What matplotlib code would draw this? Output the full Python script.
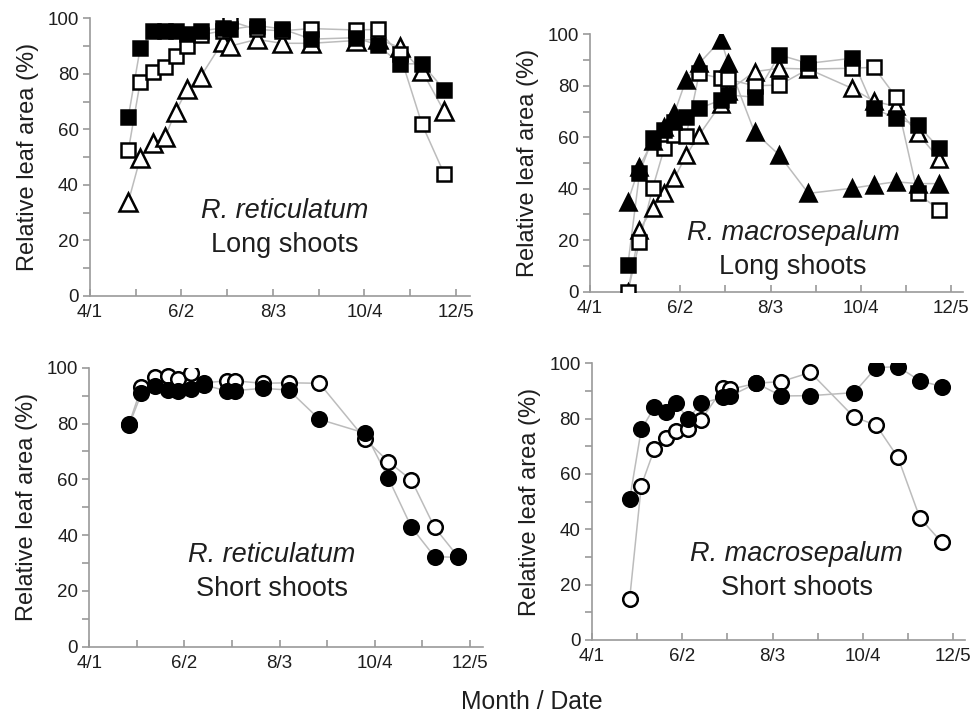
import matplotlib
matplotlib.use("Agg")
import matplotlib.pyplot as plt

plt.rcParams['font.family'] = ['Liberation Sans', 'DejaVu Sans']

# Sampling dates: days after April 1
days = [26, 34, 43, 51, 58, 66, 75, 90, 95, 113, 130, 150, 180, 195, 210, 225, 240]

# x ticks (days after 4/1) and labels
xtick_pos = [0, 31, 62, 93, 124, 155, 186, 217, 248]
xtick_labels = ['4/1', '', '6/2', '', '8/3', '', '10/4', '', '12/5']

# Panel 1: R. reticulatum, long shoots
rr_long_filled_sq = [64.6, 89.2, 95.3, 95.5, 95.5, 94.5, 95.5, 96.5, 96.0, 97.4, 96.2, 92.5, 93.0, 90.4, 83.6, 83.6, 74.3]
rr_long_open_sq = [52.5, 77.0, 80.8, 82.6, 86.5, 90.0, 94.0, 95.5, 99.0, 96.0, 95.5, 96.3, 95.8, 96.0, 87.0, 61.8, 44.0]
rr_long_open_tri = [34.0, 49.6, 55.2, 57.4, 66.4, 74.5, 79.0, 91.6, 90.0, 92.4, 91.0, 91.0, 92.0, 92.5, 89.5, 81.0, 66.5]

# Panel 2: R. macrosepalum, long shoots
rm_long_filled_tri = [35.0, 48.6, 58.5, 64.0, 69.5, 82.3, 88.7, 97.8, 88.7, 62.0, 53.1, 38.2, 40.2, 41.5, 42.7, 42.0, 42.0]
rm_long_filled_sq = [10.4, 46.0, 59.6, 62.8, 66.0, 68.0, 71.2, 74.5, 76.4, 75.6, 92.0, 88.7, 90.7, 71.2, 67.4, 64.8, 55.7]
rm_long_open_sq = [0.0, 19.4, 40.2, 55.7, 60.9, 60.5, 84.8, 82.9, 82.5, 80.0, 80.3, 86.5, 86.8, 87.2, 75.8, 38.2, 31.7]
rm_long_open_tri = [0.0, 24.0, 32.4, 38.2, 44.0, 53.0, 60.9, 73.0, 78.0, 85.5, 86.8, 86.5, 79.0, 74.0, 72.0, 61.5, 51.5]

# Panel 3: R. reticulatum, short shoots
rr_short_open = [80.0, 93.0, 96.8, 97.1, 96.0, 98.2, 94.6, 95.3, 95.3, 94.4, 94.6, 94.4, 74.3, 66.3, 59.7, 42.8, 32.5]
rr_short_filled = [79.5, 90.8, 93.4, 92.0, 91.6, 92.2, 93.8, 91.6, 91.8, 92.6, 92.0, 81.5, 76.5, 60.3, 42.8, 32.3, 32.0]

# Panel 4: R. macrosepalum, short shoots
rm_short_filled = [50.8, 76.1, 84.1, 82.5, 85.8, 79.8, 85.5, 87.7, 88.2, 92.8, 88.2, 88.3, 89.4, 98.4, 98.8, 93.7, 91.6]
rm_short_open = [14.7, 55.8, 69.0, 73.1, 75.5, 76.3, 79.5, 91.0, 90.6, 92.8, 93.4, 96.7, 80.5, 77.7, 66.0, 44.2, 35.3]

W, H = 976, 714
fig = plt.figure(figsize=(W / 100, H / 100), dpi=100)

def px_axes(left, right, top, bottom):
    return fig.add_axes([left / W, (H - bottom) / H, (right - left) / W, (bottom - top) / H])

LINE_C = '#bcbcbc'
SPINE_C = '#9a9a9a'
TXT_C = '#1e1e1e'

def style(ax, xmax):
    ax.set_xlim(0, xmax)
    ax.set_ylim(0, 100)
    for s in ['top', 'right']:
        ax.spines[s].set_visible(False)
    for s in ['left', 'bottom']:
        ax.spines[s].set_color(SPINE_C)
        ax.spines[s].set_linewidth(1.2)
    ax.set_xticks(xtick_pos)
    ax.set_xticklabels(xtick_labels)
    ax.set_yticks(range(0, 101, 20))
    ax.set_yticks(range(10, 100, 20), minor=True)
    ax.tick_params(axis='x', direction='in', length=5, color=SPINE_C, width=1.2,
                   labelsize=13.5, labelcolor=TXT_C, pad=6)
    ax.tick_params(axis='y', which='both', direction='out', length=5, color=SPINE_C,
                   width=1.2, labelsize=13.5, labelcolor=TXT_C, pad=3)
    ax.set_ylabel('Relative leaf area (%)', fontsize=17, color=TXT_C, labelpad=6)

def series(ax, y, marker, filled, ms=10):
    ax.plot(days, y, '-', color=LINE_C, lw=1.1, zorder=1)
    ax.plot(days, y, linestyle='none', marker=marker, ms=ms,
            mfc='black' if filled else 'white', mec='black', mew=1.8, zorder=3)

def label(ax, x, y1, y2, sp, shoot):
    ax.text(x, y1, sp, style='italic', fontsize=19.5, ha='center', va='center', color=TXT_C)
    ax.text(x, y2, shoot, fontsize=19.5, ha='center', va='center', color=TXT_C)

# Panel 1
ax1 = px_axes(90, 470, 18.3, 296)
style(ax1, 257.5)
series(ax1, rr_long_open_tri, '^', False, 12.5)
series(ax1, rr_long_open_sq, 's', False, 10)
series(ax1, rr_long_filled_sq, 's', True, 10)
label(ax1, 132, 30.6, 18.4, 'R. reticulatum', 'Long shoots')

# Panel 2
ax2 = px_axes(590, 962.7, 34.3, 291.7)
style(ax2, 256)
series(ax2, rm_long_open_tri, '^', False, 11)
series(ax2, rm_long_open_sq, 's', False, 9.5)
series(ax2, rm_long_filled_sq, 's', True, 9.5)
series(ax2, rm_long_filled_tri, '^', True, 11)
label(ax2, 139.5, 22.8, 9.7, 'R. macrosepalum', 'Long shoots')

# Panel 3
ax3 = px_axes(89.3, 483.3, 367.7, 646.7)
style(ax3, 256.8)
series(ax3, rr_short_open, 'o', False, 10.5)
series(ax3, rr_short_filled, 'o', True, 10.5)
label(ax3, 118.8, 32.9, 20.6, 'R. reticulatum', 'Short shoots')

# Panel 4
ax4 = px_axes(591.7, 965, 363.3, 640)
style(ax4, 256)
series(ax4, rm_short_open, 'o', False, 10.5)
series(ax4, rm_short_filled, 'o', True, 10.5)
label(ax4, 140.6, 31.1, 18.7, 'R. macrosepalum', 'Short shoots')

fig.text(532 / W, 1 - 701.7 / H, 'Month / Date', fontsize=17.8, ha='center', va='center', color=TXT_C)

fig.savefig('out.png', dpi=100)
